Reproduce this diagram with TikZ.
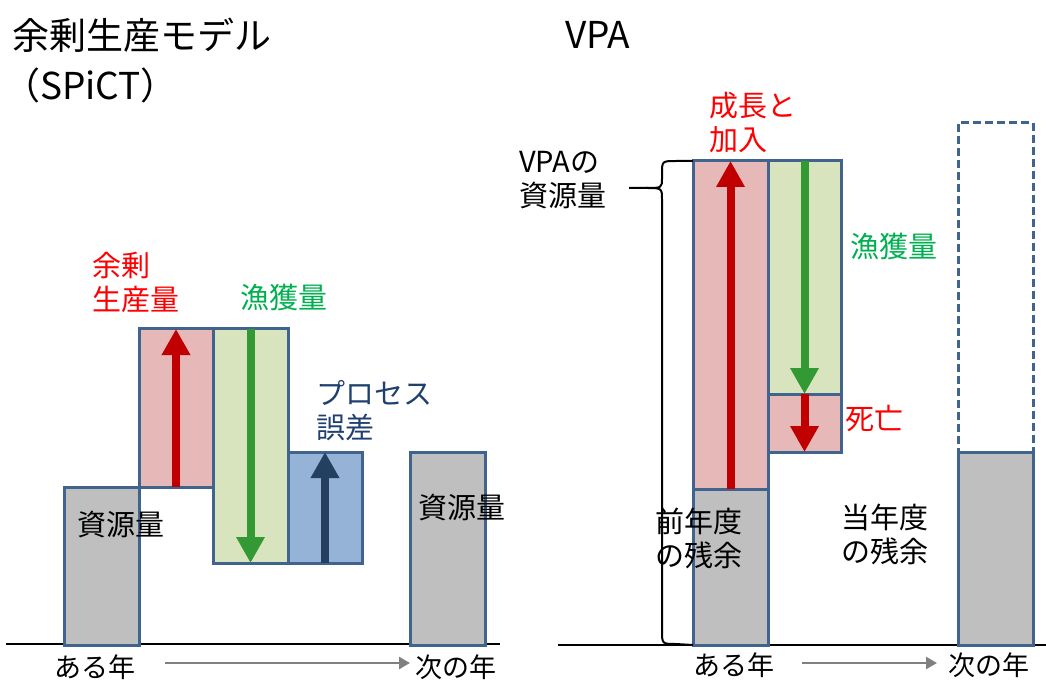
\documentclass[tikz,border=0pt]{standalone}
\usepackage{fontspec}
\setmainfont{Noto Sans CJK JP}
\usetikzlibrary{arrows.meta}
\definecolor{edge}{HTML}{41648F}
\definecolor{redfill}{HTML}{E6B9B8}
\definecolor{greenfill}{HTML}{D7E4BD}
\definecolor{bluefill}{HTML}{95B3D7}
\definecolor{grayfill}{HTML}{BFBFBF}
\definecolor{redarrow}{HTML}{C00000}
\definecolor{greenarrow}{HTML}{339933}
\definecolor{navyarrow}{HTML}{243F60}
\definecolor{redtext}{HTML}{FF0000}
\definecolor{greentext}{HTML}{00B050}
\definecolor{navytext}{HTML}{1F3F6F}
\definecolor{timearrow}{HTML}{808080}
\begin{document}
\begin{tikzpicture}[x=1pt,y=-1pt,
  box/.style={draw=edge, line width=3pt, inner sep=0pt, outer sep=0pt, rectangle},
  fat/.style={line width=8pt, -{Triangle[width=27pt,length=26pt]}},
  lbl/.style={inner sep=0pt, anchor=west, align=left, font=\fontsize{29}{34}\selectfont},
  ttl/.style={inner sep=0pt, anchor=west, font=\fontsize{37}{40}\selectfont},
  yr/.style={inner sep=0pt, anchor=west, font=\fontsize{27}{30}\selectfont},
  timeline/.style={draw=timearrow, line width=2.5pt, -{Triangle[width=12pt,length=11pt]}},
  base/.style={line width=2pt, black}
]
\useasboundingbox (0,0) rectangle (1046,684);

% ---------- left panel ----------
\coordinate (bl1) at (6,644);
\coordinate (br1) at (500,644);
\draw[base] (bl1) -- (br1);

\node[box, fill=grayfill, minimum width=75pt, minimum height=158pt] (res1) at (101.5,566) {};
\node[box, fill=redfill, minimum width=74pt, minimum height=158pt] (sp) at (176,408) {};
\node[box, fill=greenfill, minimum width=75pt, minimum height=234pt] (catch1) at (250.5,446) {};
\node[box, fill=bluefill, minimum width=74pt, minimum height=111pt] (proc) at (325,507.5) {};
\node[box, fill=grayfill, minimum width=75pt, minimum height=193pt] (res2) at (447.5,548.5) {};

\draw[fat, redarrow] (sp.south) -- (sp.north);
\draw[fat, greenarrow] (catch1.north) -- (catch1.south);
\draw[fat, navyarrow] (proc.south) -- (proc.north);

\node[ttl] (title1) at (12,35) {余剰生産モデル};
\node[ttl] (title1b) at (3,85) {（SPiCT）};

\node[lbl, text=redtext] (lsp) at (92,282) {余剰\\生産量};
\node[lbl, text=greentext] (lcatch1) at (240,297) {漁獲量};
\node[lbl, text=navytext] (lproc) at (316,410.5) {プロセス\\誤差};
\node[lbl] (lres1) at (77,525) {資源量};
\node[lbl] (lres2) at (418,508) {資源量};

\node[yr] (aru1) at (54,667) {ある年};
\node[yr] (tsugi1) at (415,667) {次の年};
\draw[timeline] ([xshift=30pt,yshift=4pt]aru1.east) -- ([xshift=-5pt,yshift=4pt]tsugi1.west);

% ---------- right panel ----------
\coordinate (bl2) at (558,645);
\coordinate (br2) at (1046,645);
\draw[base] (bl2) -- (br2);

\node[box, fill=grayfill, minimum width=75pt, minimum height=156pt] (rem1) at (730.5,567) {};
\node[box, fill=redfill, minimum width=75pt, minimum height=328pt] (grow) at (730.5,325) {};
\node[box, fill=greenfill, minimum width=73pt, minimum height=233pt] (catch2) at (804.5,277.5) {};
\node[box, fill=redfill, minimum width=73pt, minimum height=58pt] (death) at (804.5,423) {};
\node[box, fill=white, dash pattern=on 8pt off 4pt, minimum width=75pt, minimum height=329pt] (future) at (995.5,287.5) {};
\node[box, fill=grayfill, minimum width=75pt, minimum height=193pt] (rem2) at (995.5,548.5) {};

\draw[fat, redarrow] (grow.south) -- (grow.north);
\draw[fat, greenarrow] (catch2.north) -- (catch2.south);
\draw[fat, redarrow] (death.north) -- (death.south);

% brace
\coordinate (tip) at (629,188);
\draw[line width=2pt, line join=round]
  (grow.north west) -- (676,161) .. controls (662,161) .. (662,174) -- (662,178)
  .. controls (662,188) .. (646,188) -- (tip);
\draw[line width=2pt, line join=round]
  (646,188) .. controls (662,188) .. (662,200) -- (662,630)
  .. controls (662,644) .. (676,644) -- (rem1.south west);

\node[ttl] (title2) at (565,35) {VPA};

\node[lbl, text=redtext] (lgrow) at (709,123) {成長と\\加入};
\node[lbl] (lvpa) at (519,180.5) {VPAの\\資源量};
\node[lbl, text=greentext] (lcatch2) at (850,246) {漁獲量};
\node[lbl, text=redtext] (ldeath) at (845,418) {死亡};
\node[lbl] (lprev) at (655,538.5) {前年度\\の残余};
\node[lbl] (lcur) at (841,534) {当年度\\の残余};

\node[yr] (aru2) at (693,665) {ある年};
\node[yr] (tsugi2) at (948,665) {次の年};
\draw[timeline] ([xshift=28pt,yshift=2pt]aru2.east) -- ([xshift=-11pt,yshift=2pt]tsugi2.west);
\end{tikzpicture}
\end{document}
